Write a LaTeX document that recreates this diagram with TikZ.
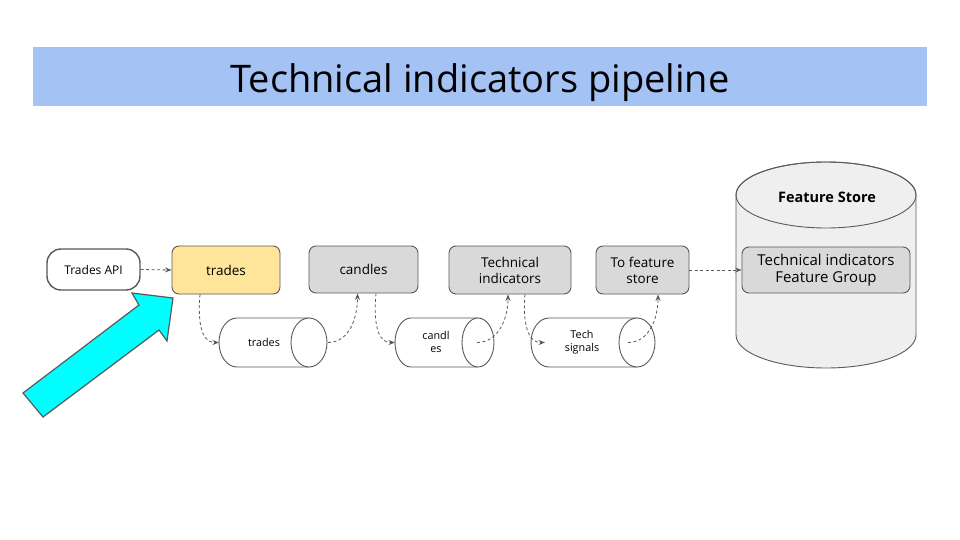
\documentclass[tikz,border=0pt]{standalone}
\usepackage{fontspec}
\setmainfont{Open Sans}
\usetikzlibrary{arrows.meta}
\definecolor{bordergray}{HTML}{595959}
\definecolor{titleblue}{HTML}{A4C2F4}
\definecolor{tradesyellow}{HTML}{FFE599}
\definecolor{boxgray}{HTML}{D9D9D9}
\definecolor{storegray}{HTML}{EFEFEF}
\definecolor{pointercyan}{HTML}{00FFFF}
\tikzset{
  stagebox/.style={draw=bordergray, line width=0.9pt, rounded corners=7pt, fill=boxgray, align=center, font=\fontsize{13.5}{16}\selectfont, inner sep=0pt},
  queuebody/.style={draw=bordergray, line width=0.9pt, fill=white},
  queuelabel/.style={align=center, font=\fontsize{10.8}{12.5}\selectfont, inner sep=0pt},
  flow/.style={draw=bordergray, line width=0.8pt, dash pattern=on 3pt off 2.5pt, -{Stealth[length=6.5pt,width=5pt]}},
}
\begin{document}
\begin{tikzpicture}[x=1pt,y=-1pt]
\useasboundingbox (0,0) rectangle (960,540);
% title
\fill[titleblue] (33,47) rectangle (927,106);
\node[inner sep=0pt, font=\fontsize{38}{44}\selectfont] (title) at (480,83) {Technical indicators pipeline};

% feature store cylinder
\filldraw[draw=bordergray, line width=0.9pt, fill=storegray] (736,195) -- (736,335) arc[start angle=180, end angle=360, x radius=90pt, y radius=33pt] -- (916,195) arc[start angle=0, end angle=180, x radius=90pt, y radius=33pt] -- cycle;
\draw[draw=bordergray, line width=0.9pt] (826,195) ellipse [x radius=90pt, y radius=33pt];
\node[font=\bfseries\fontsize{14.5}{16}\selectfont] (fslabel) at (827,197) {Feature Store};
\node[stagebox, minimum width=168pt, minimum height=46pt, font=\fontsize{15}{17}\selectfont] (group) at (826,270) {Technical indicators\\Feature Group};

% stage boxes
\node[draw=bordergray, line width=1.4pt, rounded corners=14pt, fill=white, minimum width=93pt, minimum height=41pt, inner sep=0pt, font=\fontsize{12}{13}\selectfont] (api) at (93.5,269.5) {Trades API};
\node[stagebox, fill=tradesyellow, minimum width=108pt, minimum height=48pt] (trades) at (226,270) {trades};
\node[stagebox, minimum width=109pt, minimum height=47pt] (candles) at (363.5,269.5) {candles};
\node[stagebox, minimum width=122pt, minimum height=48pt] (tech) at (510,270) {Technical\\indicators};
\node[stagebox, minimum width=93pt, minimum height=48pt] (tofs) at (642.5,270) {To feature\\store};

% queue 1: trades
\filldraw[queuebody] (309,318) -- (237,318) arc[start angle=90, end angle=270, x radius=18pt, y radius=24.5pt] -- (309,367);
\draw[queuebody] (309,342.5) ellipse [x radius=18pt, y radius=24.5pt];
\node[queuelabel] (q1) at (264,342) {trades};
\coordinate (q1in) at (219,342.5);
\coordinate (q1out) at (328,342.5);

% queue 2: candles
\filldraw[queuebody] (478,318) -- (411,318) arc[start angle=90, end angle=270, x radius=16pt, y radius=24.5pt] -- (478,367);
\draw[queuebody] (478,342.5) ellipse [x radius=16pt, y radius=24.5pt];
\node[queuelabel] (q2) at (436,342) {candl\\es};
\coordinate (q2in) at (395,342.5);
\coordinate (q2out) at (477,342.5);

% queue 3: tech signals
\filldraw[queuebody] (637,318) -- (549,318) arc[start angle=90, end angle=270, x radius=18pt, y radius=24.5pt] -- (637,367);
\draw[queuebody] (637,342.5) ellipse [x radius=18pt, y radius=24.5pt];
\node[queuelabel] (q3) at (582,342) {Tech\\signals};
\coordinate (q3in) at (545,342.5);
\coordinate (q3out) at (628,342.5);

% connectors
\draw[flow] (api.east) -- (trades.west);
\draw[flow] ([xshift=-26pt]trades.south) to[out=-95, in=180] (q1in);
\draw[flow] (q1out) to[out=0, in=-90] ([xshift=-6pt]candles.south);
\draw[flow] ([xshift=-7pt]candles.south -| 383,0) to[out=-95, in=180] (q2in);
\draw[flow] (q2out) to[out=0, in=-90] ([xshift=-2pt]tech.south);
\draw[flow] ([xshift=15pt]tech.south) to[out=-95, in=180] (q3in);
\draw[flow] (q3out) to[out=0, in=-90] ([xshift=15.5pt]tofs.south);
\draw[flow] (tofs.east) -- (group.west);

% cyan pointer arrow
\filldraw[draw=bordergray, line width=1.2pt, fill=pointercyan, line join=miter] (23,393) -- (139,305) -- (132,293) -- (173,298) -- (167,341) -- (159,330) -- (43,417) -- cycle;
\end{tikzpicture}
\end{document}
